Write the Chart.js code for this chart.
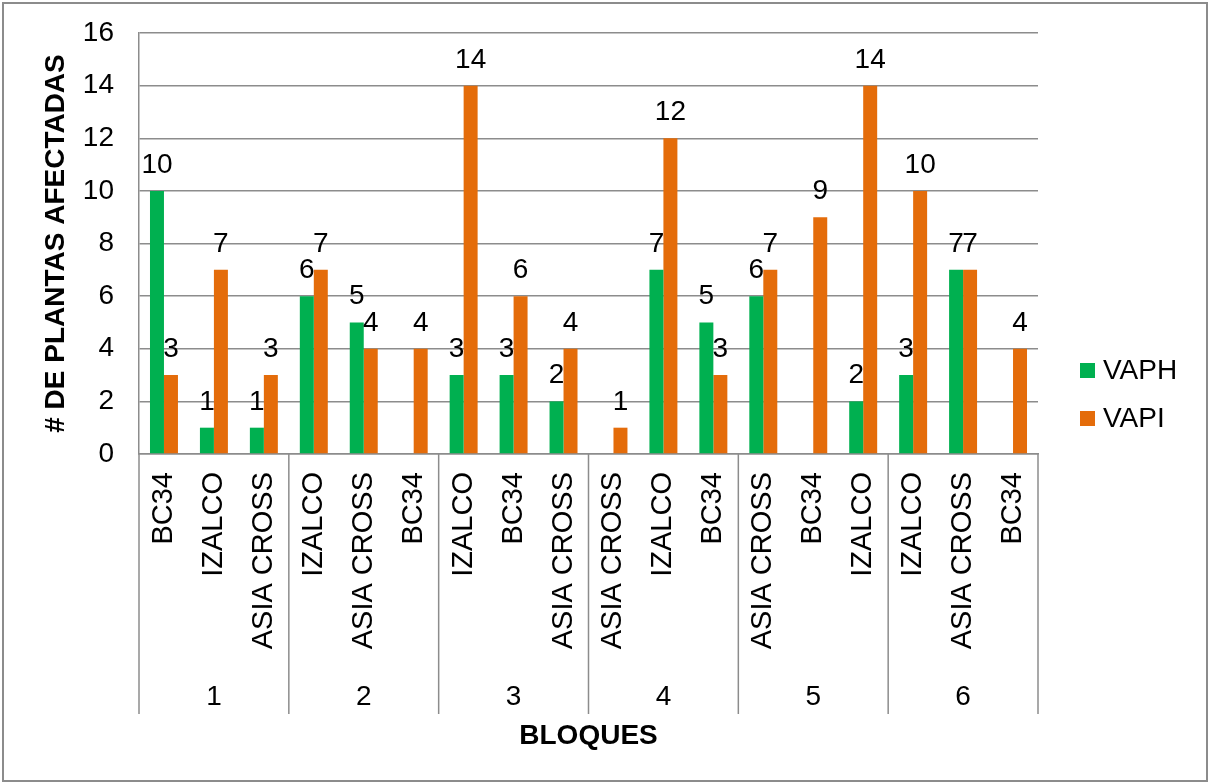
<!DOCTYPE html>
<html>
<head>
<meta charset="utf-8">
<title># de plantas afectadas por bloque</title>
<script src="https://cdn.jsdelivr.net/npm/chart.js@4.4.1/dist/chart.umd.min.js"></script>
<style>
  html, body { margin: 0; padding: 0; background: #ffffff; }
  #wrap { position: relative; width: 1211px; height: 784px; }
</style>
</head>
<body>
<div id="wrap"><canvas id="chart"></canvas></div>
<script>
(function () {
  'use strict';

  // bloques (outer axis row) and the variety planted in each plot
  const blocks = ['1', '2', '3', '4', '5', '6'];
  const varieties = [
    'BC34', 'IZALCO', 'ASIA CROSS',
    'IZALCO', 'ASIA CROSS', 'BC34',
    'IZALCO', 'BC34', 'ASIA CROSS',
    'ASIA CROSS', 'IZALCO', 'BC34',
    'ASIA CROSS', 'BC34', 'IZALCO',
    'IZALCO', 'ASIA CROSS', 'BC34'
  ];
  const vaph = [10, 1, 1, 6, 5, 0, 3, 3, 2, 0, 7, 5, 6, 0, 2, 3, 7, 0];
  const vapi = [3, 7, 3, 7, 4, 4, 14, 6, 4, 1, 12, 3, 7, 9, 14, 10, 7, 4];
  const yTicks = [0, 2, 4, 6, 8, 10, 12, 14, 16];

  const FONT = "'Liberation Sans', Arial, sans-serif";
  const LINE = '#8c8c8c';
  const GREEN = '#00b050';
  const ORANGE = '#e46c0a';
  const perBlock = varieties.length / blocks.length;

  // numbers above each non-zero bar
  const valueLabels = {
    id: 'valueLabels',
    afterDatasetsDraw: function (chart) {
      const ctx = chart.ctx;
      ctx.save();
      ctx.font = '28px ' + FONT;
      ctx.fillStyle = '#000000';
      ctx.textAlign = 'center';
      ctx.textBaseline = 'alphabetic';
      chart.data.datasets.forEach(function (ds, i) {
        chart.getDatasetMeta(i).data.forEach(function (bar, j) {
          const v = ds.data[j];
          if (!v) return;
          ctx.fillText(String(v), bar.x, bar.y - 18);
        });
      });
      ctx.restore();
    }
  };

  // second category row: block dividers and numbers, plus the outer frame
  const blockAxis = {
    id: 'blockAxis',
    afterDraw: function (chart) {
      const ctx = chart.ctx;
      const x = chart.scales.x;
      const area = chart.chartArea;
      const half = (x.getPixelForValue(1) - x.getPixelForValue(0)) / 2;
      const lineBottom = 714;
      ctx.save();
      ctx.strokeStyle = LINE;
      ctx.lineWidth = 1.5;
      for (let b = 0; b <= blocks.length; b++) {
        const px = b < blocks.length
          ? x.getPixelForValue(b * perBlock) - half
          : x.getPixelForValue(b * perBlock - 1) + half;
        ctx.beginPath();
        ctx.moveTo(px, area.bottom);
        ctx.lineTo(px, lineBottom);
        ctx.stroke();
      }
      ctx.font = '28px ' + FONT;
      ctx.fillStyle = '#000000';
      ctx.textAlign = 'center';
      ctx.textBaseline = 'middle';
      blocks.forEach(function (name, b) {
        ctx.fillText(name, x.getPixelForValue(b * perBlock + (perBlock - 1) / 2), 697);
      });
      ctx.lineWidth = 2;
      ctx.strokeRect(3, 3, 1204, 778);
      ctx.restore();
    }
  };

  // series key to the right of the plot
  const sideLegend = {
    id: 'sideLegend',
    afterDraw: function (chart) {
      const ctx = chart.ctx;
      const left = 1080;
      const top = 363;
      const step = 48;
      ctx.save();
      ctx.font = '28px ' + FONT;
      ctx.textAlign = 'left';
      ctx.textBaseline = 'middle';
      chart.data.datasets.forEach(function (ds, i) {
        const y = top + i * step;
        ctx.fillStyle = ds.backgroundColor;
        ctx.fillRect(left, y, 15, 15);
        ctx.fillStyle = '#000000';
        ctx.fillText(ds.label, left + 23, y + 8);
      });
      ctx.restore();
    }
  };

  new Chart(document.getElementById('chart'), {
    type: 'bar',
    data: {
      labels: varieties,
      datasets: [
        { label: 'VAPH', data: vaph, backgroundColor: GREEN, borderWidth: 0 },
        { label: 'VAPI', data: vapi, backgroundColor: ORANGE, borderWidth: 0 }
      ]
    },
    options: {
      responsive: true,
      maintainAspectRatio: false,
      animation: false,
      datasets: { bar: { categoryPercentage: 0.56, barPercentage: 1.0 } },
      layout: { padding: { left: 0, top: 33, right: 173, bottom: 0 } },
      plugins: {
        legend: { display: false },
        tooltip: { enabled: false }
      },
      scales: {
        x: {
          grid: { display: false, drawTicks: false },
          border: { color: LINE, width: 1.5 },
          ticks: {
            autoSkip: false,
            minRotation: 90,
            maxRotation: 90,
            padding: 18,
            color: '#000000',
            font: { family: FONT, size: 29 }
          },
          title: {
            display: true,
            text: 'BLOQUES',
            color: '#000000',
            font: { family: FONT, size: 28, weight: 'bold' },
            padding: { top: 0, bottom: 31 }
          },
          afterFit: function (scale) { scale.height = 330; }
        },
        y: {
          min: yTicks[0],
          max: yTicks[yTicks.length - 1],
          grid: {
            color: LINE,
            lineWidth: 1.5,
            drawTicks: true,
            tickLength: 22,
            tickColor: 'rgba(0,0,0,0)'
          },
          border: { color: LINE, width: 1.5 },
          afterBuildTicks: function (scale) {
            scale.ticks = yTicks.map(function (v) { return { value: v }; });
          },
          ticks: {
            padding: 3,
            color: '#000000',
            font: { family: FONT, size: 28 }
          },
          title: {
            display: true,
            text: '# DE PLANTAS AFECTADAS',
            color: '#000000',
            font: { family: FONT, size: 28, weight: 'bold' },
            padding: { top: 39, bottom: 0 }
          },
          afterFit: function (scale) { scale.width = 139; }
        }
      }
    },
    plugins: [valueLabels, blockAxis, sideLegend]
  });
})();
</script>
</body>
</html>
